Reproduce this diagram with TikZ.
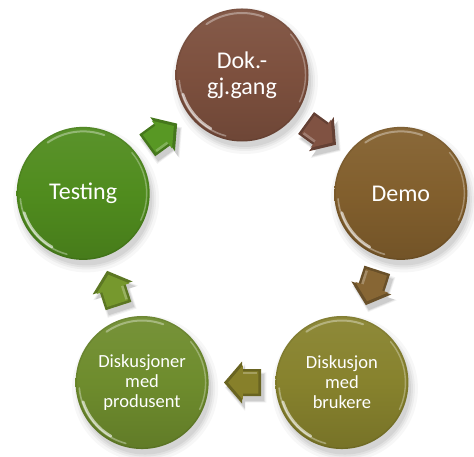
\documentclass[tikz,border=0pt]{standalone}
\usepackage{fontspec}
\setmainfont{Carlito}
\usetikzlibrary{calc}
\pgfdeclarelayer{bg}
\pgfsetlayers{bg,main}
\definecolor{cDok}{RGB}{125,80,62}
\definecolor{cDemo}{RGB}{130,95,45}
\definecolor{cBru}{RGB}{135,130,45}
\definecolor{cPro}{RGB}{110,140,45}
\definecolor{cTest}{RGB}{80,140,30}
\definecolor{aDok}{RGB}{128,82,66}
\definecolor{aDemo}{RGB}{135,102,52}
\definecolor{aBru}{RGB}{135,128,42}
\definecolor{aPro}{RGB}{118,152,45}
\definecolor{aTest}{RGB}{88,152,36}
\tikzset{
  ball/.style={circle, minimum size=133pt, inner sep=0pt, text=white, align=center,
    top color=#1!94!white, bottom color=#1!88!black, middle color=#1},
  bigtxt/.style={font=\fontsize{24}{26}\selectfont},
  smalltxt/.style={font=\fontsize{18.5}{20}\selectfont},
}
\newcommand\arrowpoly{(-19,-13.5) -- (0,-13.5) -- (0,-21) -- (18,0) -- (0,21) -- (0,13.5) -- (-19,13.5) -- cycle}
\newcommand\blockarrow[4]{%
  \begin{scope}[shift={($(#1)!0.5!(#2)$)}]
    \foreach \s/\o in {1.12/0.05,1.06/0.07,1.0/0.09}{
      \fill[black, opacity=\o, shift={(3,-5)}, rotate=#3, scale=\s] \arrowpoly;}
    \begin{scope}[rotate=#3]
      \fill[#4!78!black] \arrowpoly;
      \fill[#4, scale=0.82, shift={(-1,0)}] \arrowpoly;
      \fill[white, opacity=0.25] (-15,-11) -- (-1,-11) -- (-1,-8.5) -- (-15,-8.5) -- cycle;
    \end{scope}
  \end{scope}}
\newcommand\ballfx[1]{%
  \draw[white, opacity=0.6, line width=2.6, line cap=round] ($(#1)+(198:62)$) arc (198:240:62);
  \draw[white, opacity=0.35, line width=1.6, line cap=round] ($(#1)+(185:63)$) arc (185:255:63);
  \draw[white, opacity=0.35, line width=2, line cap=round] ($(#1)+(70:62)$) arc (70:125:62);
  \draw[white, opacity=0.3, line width=1.4, line cap=round] ($(#1)+(-25:63.5)$) arc (-25:40:63.5);
  \draw[black, opacity=0.07, line width=1.5] (#1) circle (65.8);}
\begin{document}
\begin{tikzpicture}[x=1pt,y=1pt]
\useasboundingbox (0,0) rectangle (474,457);
\coordinate (O) at (242,212);
\node[ball=cDok, bigtxt] (dok) at ($(O)+(90:170)$) {Dok.-\\gj.gang};
\node[ball=cDemo, bigtxt] (demo) at ($(O)+(18:167)$) {Demo};
\node[ball=cBru, smalltxt] (bru) at ($(O)+(-54:170)$) {Diskusjon\\med\\brukere};
\node[ball=cPro, smalltxt] (pro) at ($(O)+(-126:170)$) {Diskusjoner\\med\\produsent};
\node[ball=cTest, bigtxt] (test) at ($(O)+(162:167)$) {Testing};
\begin{pgfonlayer}{bg}
\foreach \n in {dok,demo,bru,pro,test}{
  \foreach \r/\o in {73/0.03,70/0.04,68/0.05,66/0.06}{
    \fill[black, opacity=\o] ($(\n)+(3,-6)$) circle (\r);}}
\end{pgfonlayer}
\foreach \n in {dok,demo,bru,pro,test}{\ballfx{\n}}
\blockarrow{dok}{demo}{-36}{aDok}
\blockarrow{demo}{bru}{-108}{aDemo}
\blockarrow{bru}{pro}{180}{aBru}
\blockarrow{pro}{test}{108}{aPro}
\blockarrow{test}{dok}{36}{aTest}
\end{tikzpicture}
\end{document}
